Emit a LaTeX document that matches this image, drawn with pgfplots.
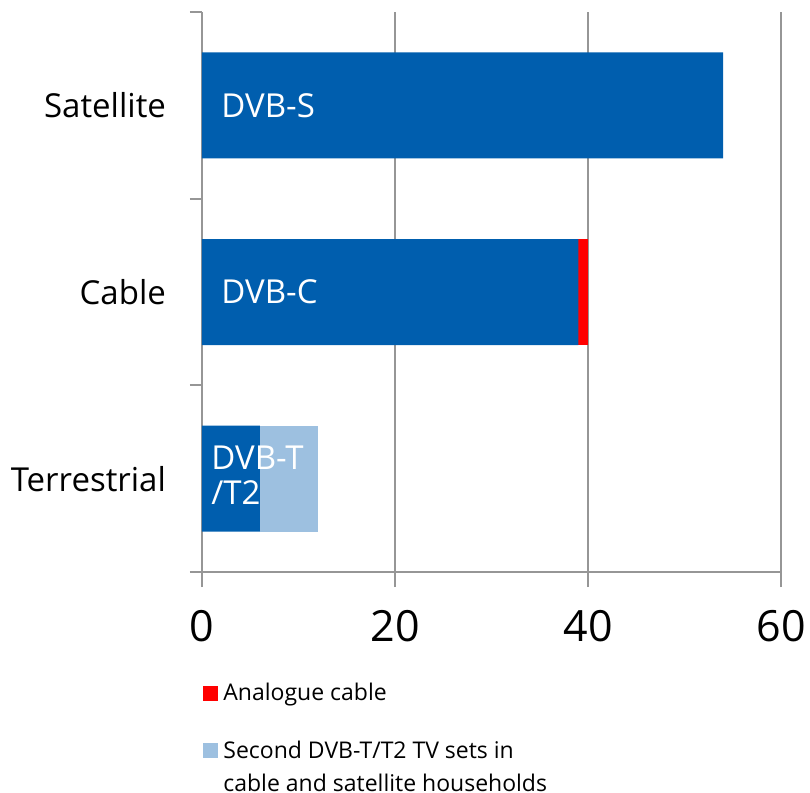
\documentclass[border=0pt]{standalone}
\usepackage{pgfplots}
\pgfplotsset{compat=1.18}
\usetikzlibrary{calc}
\usepackage{fontspec}
\setmainfont{Open Sans}
\definecolor{dvbblue}{RGB}{0,94,174}
\definecolor{lightb}{RGB}{157,192,224}
\definecolor{gridg}{RGB}{150,150,150}
\begin{document}
\begin{tikzpicture}
\begin{axis}[
  scale only axis, width=289.5pt, height=280pt,
  xbar stacked, bar width=53pt,
  xmin=0, xmax=60, ymin=-0.5, ymax=2.5,
  axis x line=bottom, axis y line=left,
  axis line style={-, draw=gridg, line width=1pt},
  xtick={0,20,40,60}, xmajorgrids,
  grid style={draw=gridg, line width=1pt},
  tick style={draw=gridg, line width=1pt},
  tick align=outside,
  major tick length=7.5pt, minor tick length=6pt,
  ytick={0,1,2}, yticklabels={Terrestrial,Cable,Satellite},
  minor ytick={-0.5,0.5,1.5,2.5},
  every major y tick/.append style={draw=none},
  /pgf/number format/assume math mode=true,
  xticklabel style={font=\fontsize{21.5}{24}\selectfont},
  yticklabel style={font=\fontsize{16.5}{20}\selectfont},
  xticklabel shift=8pt, yticklabel shift=7pt,
  legend style={draw=none, fill=none, at={(rel axis cs:-0.0086,-0.1900)}, anchor=north west,
    font=\fontsize{11.5}{16.5}\selectfont, row sep=18.7pt, column sep=0.5pt,
    nodes={align=left, inner ysep=0pt}},
  legend cell align=left,
]
\addplot[fill=dvbblue, draw=none, forget plot] coordinates {(6,0) (39,1) (54,2)};
\addplot[fill=red, draw=none, legend image code/.code={\fill[red] (0pt,-3.75pt) rectangle (7.5pt,3.75pt);}] coordinates {(0,0) (1,1) (0,2)};
\addlegendentry{Analogue cable}
\addplot[fill=lightb, draw=none, legend image code/.code={\fill[lightb] (0pt,4.5pt) rectangle (7.5pt,12pt);}] coordinates {(6,0) (0,1) (0,2)};
\addlegendentry{Second DVB-T/T2 TV sets in\\cable and satellite households}
\coordinate (LS) at (axis cs:1.97,2);
\coordinate (LC) at (axis cs:1.97,1);
\coordinate (LT) at (axis cs:0.93,0.02);
\coordinate (O) at (rel axis cs:0,0);
\end{axis}
\node[anchor=west, inner sep=0pt, text=white, font=\fontsize{16.5}{20}\selectfont] at (LS) {DVB-S};
\node[anchor=west, inner sep=0pt, text=white, font=\fontsize{16.5}{20}\selectfont] at (LC) {DVB-C};
\node[anchor=west, inner sep=0pt, text=white, align=left, font=\fontsize{16.5}{17.5}\selectfont] at (LT) {DVB-T\\/T2};
\pgfresetboundingbox
\path[use as bounding box] ($(O)+(-101pt,-110.5pt)$) rectangle ++(405pt,396.5pt);
\end{tikzpicture}
\end{document}
